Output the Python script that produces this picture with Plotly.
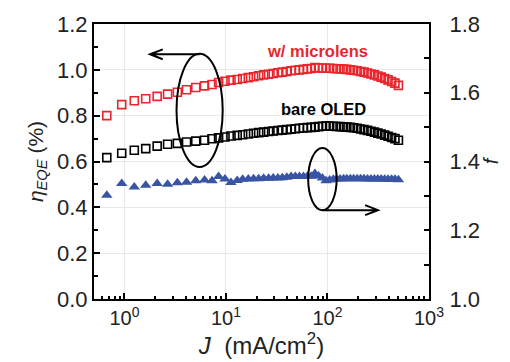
import plotly.graph_objects as go

# Current density J (mA/cm^2)
J = [0.67, 0.94, 1.25, 1.62, 2.10, 2.66, 3.32, 4.09, 5.04, 6.15, 7.29,
     8.46, 9.78, 11.2, 12.9, 14.6, 16.6, 18.7, 21.0, 23.5, 26.3, 29.2,
     32.5, 35.9, 39.7, 43.8, 48.2, 52.9, 58.0, 63.4, 69.1, 75.2,
     81.8, 89.1, 96.8, 105, 114, 123, 133, 144, 155, 168, 181, 196,
     212, 229, 248, 268, 290, 313, 338, 366, 395, 428, 462, 500]

# External quantum efficiency (%) with microlens array
eqe_lens = [0.800, 0.848, 0.865, 0.874, 0.884, 0.894, 0.902, 0.913, 0.923, 0.930, 0.936,
            0.945, 0.950, 0.955, 0.958, 0.962, 0.966, 0.970, 0.974, 0.978, 0.981, 0.984,
            0.987, 0.990, 0.993, 0.996, 0.998, 1.000, 1.002, 1.004, 1.006, 1.010,
            1.008, 1.008, 1.007, 1.007, 1.006, 1.005, 1.004, 1.003, 1.002, 1.000, 0.998, 0.996,
            0.993, 0.990, 0.986, 0.982, 0.978, 0.973, 0.968, 0.962, 0.956, 0.949, 0.942, 0.932]

# External quantum efficiency (%) of the bare device
eqe_bare = [0.617, 0.636, 0.649, 0.656, 0.667, 0.675, 0.679, 0.685, 0.689, 0.693, 0.699,
            0.703, 0.707, 0.711, 0.714, 0.717, 0.720, 0.723, 0.726, 0.728, 0.731, 0.733,
            0.735, 0.737, 0.739, 0.741, 0.743, 0.745, 0.746, 0.748, 0.749, 0.750,
            0.752, 0.754, 0.755, 0.755, 0.754, 0.753, 0.752, 0.751, 0.750, 0.749, 0.747, 0.745,
            0.742, 0.739, 0.736, 0.732, 0.728, 0.724, 0.720, 0.715, 0.710, 0.705, 0.700, 0.693]

# Enhancement factor f
f_enh = [1.302, 1.336, 1.326, 1.331, 1.336, 1.334, 1.338, 1.340, 1.344, 1.346, 1.344,
         1.356, 1.349, 1.339, 1.345, 1.348, 1.349, 1.350, 1.350, 1.351, 1.351, 1.352,
         1.352, 1.353, 1.354, 1.356, 1.356, 1.356, 1.356, 1.357, 1.357, 1.365,
         1.358, 1.352, 1.344, 1.346, 1.348, 1.349, 1.349, 1.350, 1.350, 1.350, 1.350, 1.350,
         1.350, 1.350, 1.349, 1.349, 1.349, 1.349, 1.349, 1.348, 1.348, 1.348, 1.348, 1.347]

x_tickvals = [1, 10, 100, 1000]
x_ticktext = ["10<sup>0</sup>", "10<sup>1</sup>", "10<sup>2</sup>", "10<sup>3</sup>"]
x_minorvals = [0.6, 0.7, 0.8, 0.9, 2, 3, 4, 5, 6, 7, 8, 9,
               20, 30, 40, 50, 60, 70, 80, 90, 200, 300, 400, 500, 600, 700, 800, 900]

RED = "#e8262d"
BLUE = "#3a54a4"
FONT = "Arial, Liberation Sans, sans-serif"

fig = go.Figure()
fig.add_trace(go.Scatter(x=J, y=eqe_lens, mode="markers", name="w/ microlens",
                         marker=dict(symbol="square-open", size=8, color=RED,
                                     line=dict(width=1.6, color=RED))))
fig.add_trace(go.Scatter(x=J, y=eqe_bare, mode="markers", name="bare OLED",
                         marker=dict(symbol="square-open", size=8, color="black",
                                     line=dict(width=1.6, color="black"))))
fig.add_trace(go.Scatter(x=J, y=f_enh, mode="markers", name="f", yaxis="y2",
                         marker=dict(symbol="triangle-up", size=10, color=BLUE,
                                     line=dict(width=0))))

# Plot-area geometry in pixels (used for the hand-drawn guides)
L, R, T, B = 94, 435, 22, 299
W, H = R - L, B - T


def px(x):
    return (x - L) / W


def py(y):
    return (B - y) / H


shapes = []
line_style = dict(color="black", width=2)
# ellipse around the two square series, arrow to the left axis
shapes.append(dict(type="circle", xref="paper", yref="paper",
                   x0=px(178), x1=px(225), y0=py(166), y1=py(52), line=line_style))
shapes.append(dict(type="path", xref="paper", yref="paper",
                   path=f"M{px(201.5)},{py(52.5)} L{px(151)},{py(52.5)} "
                        f"M{px(164)},{py(47.5)} L{px(151)},{py(52.5)} L{px(164)},{py(57.5)}",
                   line=line_style))
# ellipse around the triangle series, arrow to the right axis
shapes.append(dict(type="circle", xref="paper", yref="paper",
                   x0=px(312), x1=px(341), y0=py(209.5), y1=py(147), line=line_style))
shapes.append(dict(type="path", xref="paper", yref="paper",
                   path=f"M{px(326.5)},{py(209.5)} L{px(383)},{py(209.5)} "
                        f"M{px(370)},{py(204.5)} L{px(383)},{py(209.5)} L{px(370)},{py(214.5)}",
                   line=line_style))

annotations = [
    dict(text="<b>w/ microlens</b>", x=px(321), y=py(49), xref="paper", yref="paper",
         xanchor="center", yanchor="middle", showarrow=False,
         font=dict(color=RED, size=16.5, family=FONT)),
    dict(text="<b>bare OLED</b>", x=px(327.5), y=py(108), xref="paper", yref="paper",
         xanchor="center", yanchor="middle", showarrow=False,
         font=dict(color="black", size=16.5, family=FONT)),
]

axis_common = dict(showline=True, linecolor="black", linewidth=2, ticks="inside",
                   tickcolor="black", tickwidth=1.5, zeroline=False)

fig.update_layout(
    width=510, height=362,
    margin=dict(l=L, r=510 - R, t=T, b=362 - B),
    paper_bgcolor="white", plot_bgcolor="white",
    showlegend=False,
    font=dict(family=FONT, color="#222"),
    shapes=shapes,
    annotations=annotations,
    xaxis=dict(type="log", range=[-0.30, 3.0], mirror=True,
               tickmode="array", tickvals=x_tickvals, ticktext=x_ticktext, ticklen=6,
               tickfont=dict(size=20, family=FONT, color="#222"),
               showgrid=True, gridcolor="#e8e8e8", gridwidth=1,
               minor=dict(tickmode="array", tickvals=x_minorvals, ticks="inside",
                          ticklen=3, tickcolor="black", showgrid=False),
               title=dict(text="<i>J</i>  (mA/cm<sup>2</sup>)", font=dict(size=24, family=FONT),
                          standoff=4),
               **axis_common),
    yaxis=dict(range=[0, 1.2], tickmode="linear", tick0=0, dtick=0.2, tickformat=".1f",
               ticklen=6, tickfont=dict(size=22, family=FONT, color="#222"),
               showgrid=True, gridcolor="#e8e8e8", gridwidth=1,
               minor=dict(dtick=0.1, ticks="inside", ticklen=4, tickcolor="black",
                          showgrid=False),
               title=dict(text="<i>η</i><sub><i>EQE</i></sub> (%)", font=dict(size=21, family=FONT),
                          standoff=8),
               **axis_common),
    yaxis2=dict(range=[1.0, 1.8], overlaying="y", side="right", tickmode="linear",
                tick0=1.0, dtick=0.2, tickformat=".1f", ticklen=5, showgrid=False,
                tickfont=dict(size=22, family=FONT, color="#222"),
                ticklabelstandoff=14,
                minor=dict(dtick=0.1, ticks="inside", ticklen=5, tickcolor="black",
                           showgrid=False),
                title=dict(text="<i>f</i>", font=dict(size=20, family=FONT), standoff=4),
                **axis_common),
)

fig.write_html("out.html")
